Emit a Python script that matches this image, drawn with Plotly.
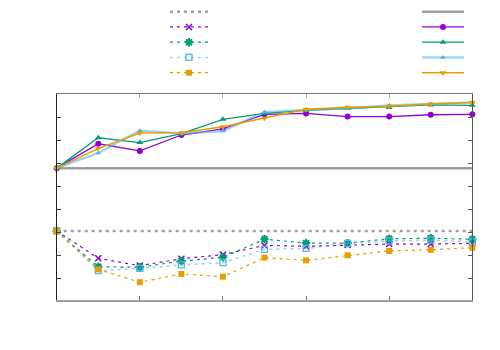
import plotly.graph_objects as go

# ---------------- data ----------------
x_vals = [0, 1, 2, 3, 4, 5, 6, 7, 8, 9, 10]

# reference lines
ref_dashed = [0.06, 0.06, 0.06, 0.06, 0.06, 0.06, 0.06, 0.06, 0.06, 0.06, 0.06]
ref_solid = [2.79, 2.79, 2.79, 2.79, 2.79, 2.79, 2.79, 2.79, 2.79, 2.79, 2.79]

# dashed series (lower group)
purple_dashed = [0.06, -1.13, -1.45, -1.15, -0.97, -0.57, -0.61, -0.55, -0.51, -0.51, -0.48]
green_dashed = [0.06, -1.50, -1.52, -1.25, -1.09, -0.30, -0.47, -0.47, -0.28, -0.26, -0.30]
blue_dashed = [0.06, -1.67, -1.57, -1.42, -1.32, -0.74, -0.70, -0.48, -0.37, -0.34, -0.41]
orange_dashed = [0.06, -1.61, -2.17, -1.81, -1.93, -1.10, -1.22, -1.00, -0.81, -0.76, -0.67]

# solid series (upper group)
purple_solid = [2.79, 3.85, 3.54, 4.23, 4.50, 5.13, 5.17, 5.03, 5.03, 5.11, 5.13]
green_solid = [2.79, 4.11, 3.90, 4.29, 4.91, 5.17, 5.30, 5.38, 5.43, 5.54, 5.52]
blue_solid = [2.79, 3.45, 4.42, 4.30, 4.40, 5.23, 5.32, 5.39, 5.52, 5.57, 5.65]
orange_solid = [2.79, 3.64, 4.32, 4.33, 4.59, 4.96, 5.35, 5.44, 5.48, 5.58, 5.64]

x_ticks = [2, 4, 6, 8]
y_ticks = [-2, -1, 0, 1, 2, 3, 4, 5, 6]

# ---------------- styles ----------------
GRAY = "#a0a0a0"
PURPLE = "#9400d3"
GREEN = "#009e73"
BLUE = "rgba(86,180,233,0.6)"
BLUE_M = "#56b4e9"
ORANGE = "#e69f00"
DASH = "3px,4px"

dashed_series = [
    (ref_dashed, dict(color=GRAY, width=2.5, dash=DASH), None),
    (purple_dashed, dict(color=PURPLE, width=1.2, dash=DASH),
     dict(symbol="x-thin-open", size=6, color=PURPLE, line=dict(color=PURPLE, width=1.5))),
    (green_dashed, dict(color=GREEN, width=1.2, dash=DASH),
     dict(symbol="asterisk-open", size=7, color=GREEN, line=dict(color=GREEN, width=2))),
    (blue_dashed, dict(color=BLUE, width=1.5, dash=DASH),
     dict(symbol="square-open", size=6, color=BLUE_M, line=dict(color=BLUE_M, width=1.3))),
    (orange_dashed, dict(color=ORANGE, width=1.2, dash=DASH),
     dict(symbol="square", size=6, color=ORANGE, line=dict(width=0))),
]
solid_series = [
    (ref_solid, dict(color=GRAY, width=2.5), None),
    (purple_solid, dict(color=PURPLE, width=1.3),
     dict(symbol="circle", size=6, color=PURPLE, line=dict(width=0))),
    (green_solid, dict(color=GREEN, width=1.3),
     dict(symbol="triangle-up", size=6, color=GREEN, line=dict(width=0))),
    (blue_solid, dict(color=BLUE, width=2.2),
     dict(symbol="triangle-up", size=5, color=BLUE_M, line=dict(width=0))),
    (orange_solid, dict(color=ORANGE, width=1.5),
     dict(symbol="triangle-down", size=6, color=ORANGE, line=dict(width=0))),
]

fig = go.Figure()

# main plot
for ys, ln, mk in dashed_series + solid_series:
    fig.add_trace(go.Scatter(
        x=x_vals, y=ys, mode="lines+markers" if mk else "lines",
        line=ln, marker=mk, showlegend=False, cliponaxis=False, hoverinfo="skip"))

# dummy trace to activate top/right axes
fig.add_trace(go.Scatter(x=[None], y=[None], xaxis="x2", yaxis="y2", showlegend=False))

# key: two columns, drawn on their own small axes
legend_rows = [0, 1, 2, 3, 4]
for col, (series, xa, ya) in enumerate([(dashed_series, "x3", "y3"), (solid_series, "x4", "y4")]):
    for row, (ys, ln, mk) in zip(legend_rows, series):
        fig.add_trace(go.Scatter(x=[0, 1], y=[row, row], mode="lines", line=ln,
                                 xaxis=xa, yaxis=ya, showlegend=False, hoverinfo="skip",
                                 cliponaxis=False))
        if mk:
            fig.add_trace(go.Scatter(x=[0.5], y=[row], mode="markers", marker=mk,
                                     xaxis=xa, yaxis=ya, showlegend=False, hoverinfo="skip",
                                     cliponaxis=False))

W, H = 500, 350
x0, x1 = 56.7, 472.3
y_top, y_bot = 94.3, 300.3
dom_x = [x0 / W, x1 / W]
dom_y = [1 - y_bot / H, 1 - y_top / H]
yr = [-(y_bot - 232.3) / 23.0, (232.3 - y_top) / 23.0]

common = dict(showgrid=False, zeroline=False, showticklabels=False, ticks="inside", ticklen=4)
hidden = dict(visible=False, showgrid=False, zeroline=False, fixedrange=True)

row_px = 15.25
leg_top = 11.7 - row_px / 2
leg_bot = 72.7 + row_px / 2

fig.update_layout(
    width=W, height=H, margin=dict(l=0, r=0, t=0, b=0),
    paper_bgcolor="white", plot_bgcolor="white", showlegend=False,
    xaxis=dict(domain=dom_x, range=[0, 10], tickvals=x_ticks, showline=True,
               linecolor=GRAY, linewidth=2, tickcolor="#777", anchor="y", **common),
    xaxis2=dict(domain=dom_x, range=[0, 10], tickvals=x_ticks, showline=True, side="top",
                overlaying="x", anchor="y", linecolor="#777", linewidth=1,
                tickcolor="#aaa", **common),
    yaxis=dict(domain=dom_y, range=yr, tickvals=y_ticks, showline=True,
               linecolor="#222", linewidth=1.2, tickcolor="#444", anchor="x", **common),
    yaxis2=dict(domain=dom_y, range=yr, tickvals=y_ticks, showline=True, side="right",
                overlaying="y", anchor="x", linecolor="#555", linewidth=1.2,
                tickcolor="#555", **common),
    xaxis3=dict(domain=[170 / W, 208 / W], range=[0, 1], anchor="y3", **hidden),
    yaxis3=dict(domain=[1 - leg_bot / H, 1 - leg_top / H], range=[4.5, -0.5], anchor="x3", **hidden),
    xaxis4=dict(domain=[422 / W, 464 / W], range=[0, 1], anchor="y4", **hidden),
    yaxis4=dict(domain=[1 - leg_bot / H, 1 - leg_top / H], range=[4.5, -0.5], anchor="x4", **hidden),
)

fig.write_html("out.html", config={"displayModeBar": False},
               post_script="document.body.style.margin='0';")
